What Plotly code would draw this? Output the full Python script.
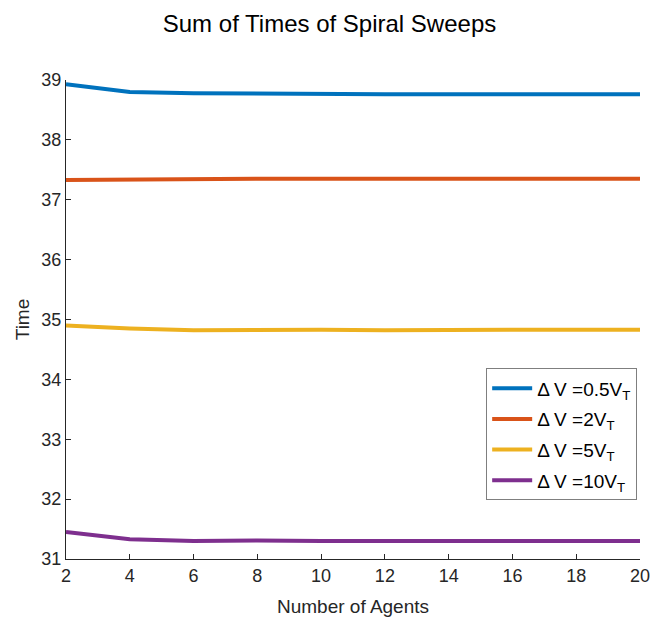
import plotly.graph_objects as go

agents = [2, 4, 6, 8, 10, 12, 14, 16, 18, 20]
t_05 = [38.93, 38.80, 38.78, 38.77, 38.76, 38.76, 38.76, 38.76, 38.76, 38.76]
t_2 = [37.33, 37.34, 37.35, 37.35, 37.35, 37.35, 37.35, 37.35, 37.35, 37.35]
t_5 = [34.90, 34.85, 34.82, 34.83, 34.83, 34.82, 34.83, 34.83, 34.83, 34.83]
t_10 = [31.45, 31.33, 31.30, 31.31, 31.30, 31.30, 31.30, 31.30, 31.30, 31.30]
names = ["Δ V =0.5V<sub>T</sub>", "Δ V =2V<sub>T</sub>", "Δ V =5V<sub>T</sub>", "Δ V =10V<sub>T</sub>"]
colors = ["#0072BD", "#D95319", "#EDB120", "#7E2F8E"]

FONT = "Liberation Sans, Arial, Helvetica"

fig = go.Figure()
for i, (ys, n, c) in enumerate(zip([t_05, t_2, t_5, t_10], names, colors)):
    fig.add_trace(go.Scatter(x=agents, y=ys, mode="lines", name=n, legendgroup=f"g{i}",
                             line=dict(color=c, width=4)))

axis_common = dict(showline=True, linecolor="#262626", linewidth=1, ticks="inside",
                   ticklen=5, tickcolor="#262626", showgrid=False, zeroline=False,
                   tickfont=dict(family=FONT, size=18, color="#262626"),
                   mirror=False, automargin=False)

fig.update_layout(
    width=659, height=619,
    margin=dict(l=66, r=19, t=80, b=60),
    paper_bgcolor="white", plot_bgcolor="white",
    title=dict(text="Sum of Times of Spiral Sweeps", x=0.5, xanchor="center",
               y=1 - 24 / 619, yanchor="middle",
               font=dict(family=FONT, size=24, color="black")),
    xaxis=dict(range=[2, 20], tickvals=list(range(2, 21, 2)),
               title=dict(text="Number of Agents", standoff=15,
                          font=dict(family=FONT, size=19, color="#262626")),
               **axis_common),
    yaxis=dict(range=[31, 39], tickvals=list(range(31, 40)),
               title=dict(text="Time", standoff=6,
                          font=dict(family=FONT, size=19, color="#262626")),
               **axis_common),
    legend=dict(x=0.732, y=0.398, xanchor="left", yanchor="top",
                bordercolor="#7f7f7f", borderwidth=1, bgcolor="white",
                font=dict(family=FONT, size=19, color="black"),
                itemwidth=40, tracegroupgap=3),
    showlegend=True,
)

fig.write_html("out.html")
